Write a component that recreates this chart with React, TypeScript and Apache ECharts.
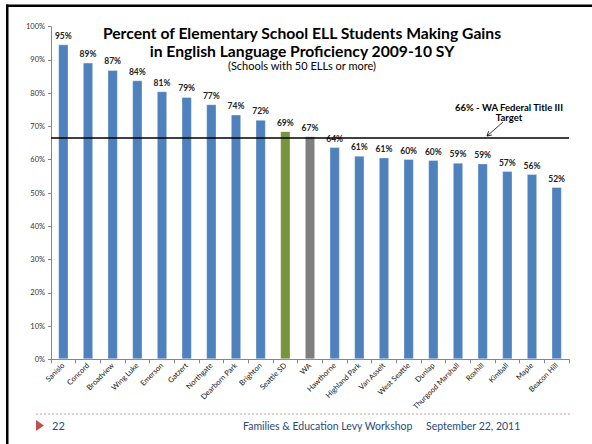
import React, { useEffect, useRef } from "react";
import * as echarts from "echarts";

const categories = [
  "Sanislo", "Concord", "Broadview", "Wing Luke", "Emerson", "Gatzert", "Northgate",
  "Dearborn Park", "Brighton", "Seattle SD", "WA", "Hawthorne", "Highland Park",
  "Van Asselt", "West Seattle", "Dunlap", "Thurgood Marshall", "Roxhill", "Kimball",
  "Maple", "Beacon Hill",
];
const values = [
  94.7, 89.2, 87.0, 83.9, 80.6, 78.9, 76.7, 73.6, 72.0, 68.6, 67.1, 63.8, 61.2,
  60.7, 60.2, 59.9, 59.1, 58.9, 56.6, 55.7, 51.8,
];
const valueLabels = [
  "95%", "89%", "87%", "84%", "81%", "79%", "77%", "74%", "72%", "69%", "67%",
  "64%", "61%", "61%", "60%", "60%", "59%", "59%", "57%", "56%", "52%",
];
const targetValue = 66.5;
const yTicks = { min: 0, max: 100, interval: 10 };

const FONT = "Lato, 'Open Sans', sans-serif";

export default function App() {
  const ref = useRef<HTMLDivElement>(null);
  useEffect(() => {
    if (!ref.current) return;
    const chart = echarts.init(ref.current, undefined, { renderer: "svg" });
    const data = values.map((v, i) => {
      const name = categories[i];
      let color = "#4F81BD";
      if (name === "Seattle SD") color = "#77933C";
      if (name === "WA") color = "#7F7F7F";
      return { value: v, itemStyle: { color, borderColor: "rgba(255,255,255,0.35)", borderWidth: 1 } };
    });
    chart.setOption({
      animation: false,
      backgroundColor: "#ffffff",
      textStyle: { fontFamily: FONT },
      grid: { left: 51, right: 23, top: 26.7, bottom: 84.7, containLabel: false },
      xAxis: {
        type: "category",
        data: categories,
        axisLine: { lineStyle: { color: "#868686", width: 1 } },
        axisTick: { show: true, length: 4, lineStyle: { color: "#868686" } },
        axisLabel: {
          interval: 0,
          rotate: 45,
          fontSize: 7.5,
          color: "#111",
          fontFamily: FONT,
          margin: 5,
        },
      },
      yAxis: {
        type: "value",
        min: yTicks.min,
        max: yTicks.max,
        interval: yTicks.interval,
        axisLine: { show: true, lineStyle: { color: "#868686", width: 1 } },
        axisTick: { show: true, length: 3, lineStyle: { color: "#868686" } },
        splitLine: { show: false },
        axisLabel: { formatter: "{value}%", fontSize: 7.5, color: "#333", fontFamily: FONT, margin: 6 },
      },
      series: [
        {
          type: "bar",
          data,
          barWidth: "42%",
          label: {
            show: true,
            position: "top",
            distance: 4,
            fontSize: 8.5,
            fontWeight: "bold",
            color: "#222",
            fontFamily: FONT,
            formatter: (p: any) => valueLabels[p.dataIndex],
          },
          markLine: {
            silent: true,
            symbol: ["none", "none"],
            label: { show: false },
            lineStyle: { color: "#000", width: 1.5, type: "solid" },
            data: [{ yAxis: targetValue }],
          },
        },
      ],
      graphic: [
        { type: "rect", shape: { x: 6, y: 4.5, width: 586, height: 2.5 }, style: { fill: "#000" } },
        { type: "rect", shape: { x: 6, y: 4.5, width: 2.5, height: 440 }, style: { fill: "#000" } },
        {
          type: "text", x: 302, y: 33,
          style: { text: "Percent of Elementary School ELL Students Making Gains", fontSize: 15.7, fontWeight: "bold", fontFamily: FONT, fill: "#000", align: "center", verticalAlign: "middle" },
        },
        {
          type: "text", x: 302, y: 51,
          style: { text: "in English Language Proficiency 2009-10 SY", fontSize: 15.7, fontWeight: "bold", fontFamily: FONT, fill: "#000", align: "center", verticalAlign: "middle" },
        },
        {
          type: "text", x: 302, y: 65.5,
          style: { text: "(Schools with 50 ELLs or more)", fontSize: 11, fontFamily: FONT, fill: "#000", align: "center", verticalAlign: "middle" },
        },
        {
          type: "text", x: 509, y: 107,
          style: { text: "66% - WA Federal Title III", fontSize: 9.5, fontWeight: "bold", fontFamily: FONT, fill: "#000", align: "center", verticalAlign: "middle" },
        },
        {
          type: "text", x: 509, y: 117,
          style: { text: "Target", fontSize: 9.5, fontWeight: "bold", fontFamily: FONT, fill: "#000", align: "center", verticalAlign: "middle" },
        },
        { type: "line", shape: { x1: 503, y1: 122, x2: 487, y2: 136 }, style: { stroke: "#000", lineWidth: 0.8 } },
        { type: "polyline", shape: { points: [[491.9, 135], [487, 136], [488.6, 131.2]] }, style: { stroke: "#000", lineWidth: 0.8, fill: "none" } },
        { type: "line", shape: { x1: 36, y1: 414, x2: 570, y2: 414 }, style: { stroke: "#D99694", lineWidth: 1, lineDash: [2, 2] } },
        { type: "polygon", shape: { points: [[36, 420], [44, 425.5], [36, 431]] }, style: { fill: "#C0504D" } },
        {
          type: "text", x: 52, y: 425.5,
          style: { text: "22", fontSize: 11, fontFamily: FONT, fill: "#2A4A7C", verticalAlign: "middle" },
        },
        {
          type: "text", x: 243, y: 425.5,
          style: { text: "Families & Education Levy Workshop", fontSize: 10.5, fontFamily: FONT, fill: "#2A4A7C", verticalAlign: "middle" },
        },
        {
          type: "text", x: 426, y: 425.5,
          style: { text: "September 22, 2011", fontSize: 10.5, fontFamily: FONT, fill: "#2A4A7C", verticalAlign: "middle" },
        },
      ],
    });
    return () => chart.dispose();
  }, []);
  return <div ref={ref} style={{ position: "absolute", left: 0, top: 0, width: 592, height: 444 }} />;
}
